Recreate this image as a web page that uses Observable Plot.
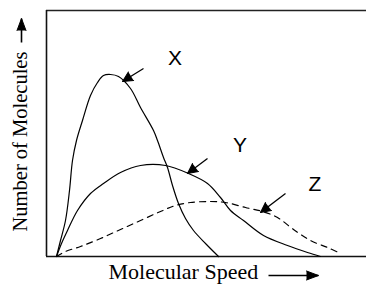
<!DOCTYPE html>
<html>
<head>
<meta charset="utf-8">
<script src="https://cdn.jsdelivr.net/npm/d3@7"></script>
<script src="https://cdn.jsdelivr.net/npm/@observablehq/plot@0.6"></script>
<style>
  html, body { margin: 0; padding: 0; background: #fff; }
</style>
</head>
<body>
<div id="chart"></div>
<script>
// Curve X (solid)
const xSpeed = [10,14,19,23,26,30,36,44,51,57,64,72,84,94,107,111,117,121,126,132,139,147,159,172];
const xCount = [0,16,36,66,96,116,136,161,174,181,182,180,168,149,126,116,99,89,71,53,38,26,13,0];
// Curve Y (solid)
const ySpeed = [10,15,21,31,44,57,74,94,119,142,161,174,184,197,217,241,261,274];
const yCount = [0,13,26,46,63,73,84,91,91,83,73,59,46,36,21,11,4,0];
// Curve Z (dashed)
const zSpeed = [10,19,34,54,74,94,114,129,144,164,179,199,216,231,247,264,281,292];
const zCount = [0,5,10,18,27,36,45,51,54,55,54,49,45,39,27,16,9,4];

// Curve labels and their pointer arrows
const curveNames = ["X", "Y", "Z"];
const labelSpeed = [128.5, 193.5, 268.5];
const labelCount = [198.5, 111.5, 72.5];
const arrowFromSpeed = [97, 161, 239];
const arrowFromCount = [188, 98, 63];
const arrowToSpeed = [76, 141, 214];
const arrowToCount = [175, 83, 44];

const xTitle = "Molecular Speed";
const yTitle = "Number of Molecules";

const toRows = (s, c) => s.map((v, i) => ({speed: v, count: c[i]}));
const curveX = toRows(xSpeed, xCount);
const curveY = toRows(ySpeed, yCount);
const curveZ = toRows(zSpeed, zCount);
const labels = curveNames.map((n, i) => ({name: n, speed: labelSpeed[i], count: labelCount[i]}));
const pointers = curveNames.map((n, i) => ({
  x1: arrowFromSpeed[i], y1: arrowFromCount[i], x2: arrowToSpeed[i], y2: arrowToCount[i]
}));
// axis-title arrows (in the margins)
const titleArrows = [
  {x1: -25, y1: 214, x2: -25, y2: 238},
  {x1: 222, y1: -19, x2: 272, y2: -19}
];
// x and y scales both use 1px per unit, so data angles equal screen angles
const bearing = d => Math.atan2(d.x2 - d.x1, d.y2 - d.y1) * 180 / Math.PI;

const chart = Plot.plot({
  width: 366,
  height: 284,
  marginLeft: 46,
  marginRight: 0,
  marginTop: 10,
  marginBottom: 28,
  x: {domain: [0, 320], axis: null},
  y: {domain: [0, 246], axis: null},
  style: {background: "#fff", overflow: "visible"},
  marks: [
    Plot.ruleY([0], {stroke: "#111", strokeWidth: 1.6}),
    Plot.ruleY([246], {stroke: "#222", strokeWidth: 1.6}),
    Plot.ruleX([0], {stroke: "#111", strokeWidth: 1.6}),
    Plot.line(curveX, {x: "speed", y: "count", stroke: "#000", strokeWidth: 1.2, curve: "catmull-rom"}),
    Plot.line(curveY, {x: "speed", y: "count", stroke: "#000", strokeWidth: 1.2, curve: "catmull-rom"}),
    Plot.line(curveZ, {x: "speed", y: "count", stroke: "#000", strokeWidth: 1.2, strokeDasharray: "6,5", curve: "catmull-rom"}),
    // pointer shafts + filled heads
    Plot.link(pointers, {x1: "x1", y1: "y1", x2: "x2", y2: "y2", stroke: "#000", strokeWidth: 1.3}),
    Plot.vector(pointers, {x: "x2", y: "y2", rotate: bearing, length: 10, r: 5, shape: "spike", anchor: "end", fill: "#000", stroke: "#000", strokeWidth: 1}),
    Plot.text(labels, {x: "speed", y: "count", text: "name", fontSize: 21, fontFamily: "Liberation Sans, Arial, sans-serif", fill: "#000", lineAnchor: "middle"}),
    // axis titles
    Plot.text([yTitle], {x: -26, y: 115, text: d => d, rotate: -90, fontSize: 20.5, fontFamily: "Liberation Serif, Times New Roman, serif", fill: "#000", lineAnchor: "middle"}),
    Plot.text([xTitle], {x: 62, y: -15, text: d => d, textAnchor: "start", fontSize: 22, fontFamily: "Liberation Serif, Times New Roman, serif", fill: "#000", lineAnchor: "middle"}),
    Plot.link(titleArrows, {x1: "x1", y1: "y1", x2: "x2", y2: "y2", stroke: "#000", strokeWidth: 1.6}),
    Plot.vector(titleArrows, {x: "x2", y: "y2", rotate: bearing, length: 12, r: 4.5, shape: "spike", anchor: "end", fill: "#000", stroke: "#000", strokeWidth: 1})
  ]
});
document.getElementById("chart").appendChild(chart);
</script>
</body>
</html>
